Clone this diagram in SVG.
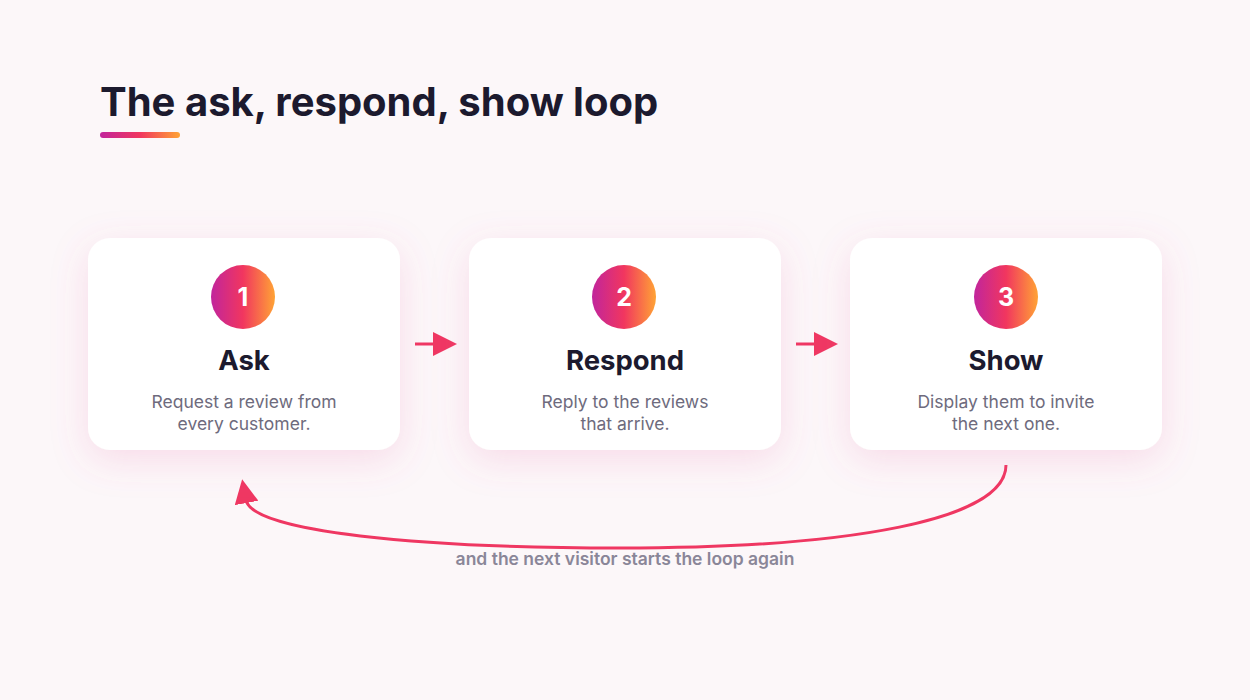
<svg xmlns="http://www.w3.org/2000/svg" width="1250" height="700" viewBox="0 0 1250 700">
<style>
.title{font-family:Inter,"Liberation Sans",sans-serif;font-weight:700;font-size:40px;fill:#1c1a2e}
.card{fill:#ffffff}
.num{font-family:Inter,"Liberation Sans",sans-serif;font-weight:700;font-size:25px;fill:#ffffff;text-anchor:middle}
.head{font-family:Inter,"Liberation Sans",sans-serif;font-weight:700;font-size:27.5px;fill:#1c1a2e;text-anchor:middle}
.desc{font-family:Inter,"Liberation Sans",sans-serif;font-size:17.5px;fill:#6e6b7d;text-anchor:middle}
.note{font-family:Inter,"Liberation Sans",sans-serif;font-weight:600;font-size:17.5px;fill:#8a8698;text-anchor:middle}
.conn{stroke:#ef3762;stroke-width:3;fill:none}
</style>
<defs>
<linearGradient id="grad" x1="0" y1="0" x2="1" y2="0">
<stop offset="0" stop-color="#c1259c"/>
<stop offset="0.5" stop-color="#f1365f"/>
<stop offset="1" stop-color="#ffa335"/>
</linearGradient>
<filter id="glow" x="-40%" y="-40%" width="180%" height="180%">
<feDropShadow dx="0" dy="10" stdDeviation="18" flood-color="#e65aa0" flood-opacity="0.18"/>
</filter>
<marker id="arrow" markerWidth="8" markerHeight="8" refX="1" refY="4" orient="auto" markerUnits="strokeWidth">
<path d="M0,0 L8,4 L0,8 z" fill="#ef3762"/>
</marker>
</defs>
<rect width="1250" height="700" fill="#fcf7f9"/>
<text class="title" x="100" y="116">The ask, respond, show loop</text>
<rect x="100" y="132" width="80" height="6" rx="3" fill="url(#grad)"/>

<g id="connectors">
<line class="conn" x1="415" y1="344" x2="436" y2="344" marker-end="url(#arrow)"/>
<line class="conn" x1="796" y1="344" x2="817" y2="344" marker-end="url(#arrow)"/>
<path class="conn" d="M1006,465 C1006,520 850,548 620,548 C420,548 252,532 246,500" marker-end="url(#arrow)"/>
<text class="note" x="625" y="565">and the next visitor starts the loop again</text>
</g>

<g id="node-ask">
<rect class="card" x="88" y="238" width="312" height="212" rx="22" filter="url(#glow)"/>
<circle cx="243" cy="297" r="32" fill="url(#grad)"/>
<text class="num" x="243" y="306">1</text>
<text class="head" x="244" y="370">Ask</text>
<text class="desc" x="244" y="408">Request a review from</text>
<text class="desc" x="244" y="430">every customer.</text>
</g>

<g id="node-respond">
<rect class="card" x="469" y="238" width="312" height="212" rx="22" filter="url(#glow)"/>
<circle cx="624" cy="297" r="32" fill="url(#grad)"/>
<text class="num" x="624" y="306">2</text>
<text class="head" x="625" y="370">Respond</text>
<text class="desc" x="625" y="408">Reply to the reviews</text>
<text class="desc" x="625" y="430">that arrive.</text>
</g>

<g id="node-show">
<rect class="card" x="850" y="238" width="312" height="212" rx="22" filter="url(#glow)"/>
<circle cx="1006" cy="297" r="32" fill="url(#grad)"/>
<text class="num" x="1006" y="306">3</text>
<text class="head" x="1006" y="370">Show</text>
<text class="desc" x="1006" y="408">Display them to invite</text>
<text class="desc" x="1006" y="430">the next one.</text>
</g>
</svg>
